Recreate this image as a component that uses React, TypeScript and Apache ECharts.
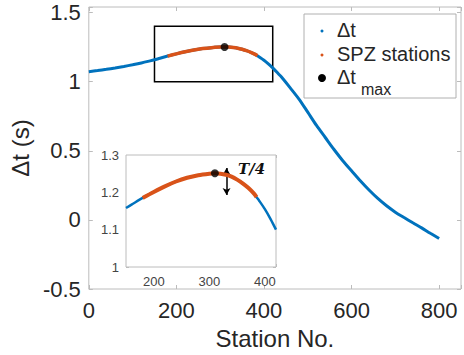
import React, { useEffect, useRef } from "react";
import * as echarts from "echarts";

const stations = [0, 20, 40, 60, 80, 100, 120, 140, 150, 160, 180, 200, 220, 240, 260, 280, 300, 310, 320, 330, 340, 350, 360, 370, 380, 385, 390, 400, 410, 420, 435, 440, 460, 480, 500, 520, 540, 560, 580, 600, 620, 640, 660, 680, 700, 720, 740, 760, 780, 800];
const dt = [1.072, 1.080, 1.089, 1.099, 1.110, 1.122, 1.135, 1.150, 1.158, 1.167, 1.185, 1.201, 1.216, 1.229, 1.239, 1.246, 1.250, 1.251, 1.250, 1.247, 1.242, 1.234, 1.224, 1.212, 1.197, 1.187, 1.177, 1.155, 1.129, 1.100, 1.050, 1.033, 0.955, 0.874, 0.779, 0.683, 0.596, 0.509, 0.428, 0.355, 0.283, 0.216, 0.155, 0.102, 0.056, 0.017, -0.021, -0.058, -0.097, -0.135];
const spzRange = [180, 385];
const dtMax = [310, 1.251];
const zoomBox = [[150, 1.0], [420, 1.4]];
const insetX = [150, 420];
const insetY = [1.0, 1.3];
const arrowX = 331;
const arrowY = [1.193, 1.265];
const xTicks = [0, 200, 400, 600, 800];
const yTicks = [-0.5, 0, 0.5, 1, 1.5];
const legendLabels = ["Δt", "SPZ stations", "Δt", "max"];

const BLUE = "#0072BD";
const ORANGE = "#D95319";
const AXIS = "#bcbcbc";
const TXT = "#262626";
const FONT = "'Liberation Sans', Arial, Helvetica, sans-serif";

export default function App() {
  const ref = useRef<HTMLDivElement>(null);
  useEffect(() => {
    if (!ref.current) return;
    const chart = echarts.init(ref.current, null, { renderer: "svg" });
    const all = stations.map((s, i) => [s, dt[i]]);
    const spz = all.filter((p) => p[0] >= spzRange[0] && p[0] <= spzRange[1]);
    const insetAll = all.filter((p) => p[0] >= insetX[0] && p[0] <= insetX[1]);
    const onTick = (list: number[]) => (v: number) =>
      list.some((t) => Math.abs(t - v) < 1e-6) ? String(v) : "";

    const tickStyle = { show: true, inside: true, length: 4, lineStyle: { color: AXIS } };
    const insetTick = { show: true, inside: true, length: 3, lineStyle: { color: AXIS } };
    const noLine = { show: false, onZero: false };

    chart.setOption({
      animation: false,
      grid: [
        { left: 88, top: 7, width: 375, height: 283.5, show: true, borderColor: AXIS, borderWidth: 1, backgroundColor: "#fff" },
        { left: 126, top: 155, width: 150, height: 112, show: true, borderColor: AXIS, borderWidth: 1, backgroundColor: "#fff", z: 5 },
      ],
      xAxis: [
        {
          gridIndex: 0, type: "value", min: 0, max: 850, interval: 200,
          name: "Station No.", nameLocation: "middle", nameGap: 37,
          nameTextStyle: { fontSize: 24, color: TXT, fontFamily: FONT },
          axisLine: noLine, axisTick: tickStyle, splitLine: { show: false },
          axisLabel: { fontSize: 22, color: TXT, fontFamily: FONT, margin: 10, formatter: onTick(xTicks) },
        },
        {
          gridIndex: 0, type: "value", position: "top", min: 0, max: 850, interval: 200,
          axisLine: noLine, axisTick: tickStyle, splitLine: { show: false }, axisLabel: { show: false },
        },
        {
          gridIndex: 1, type: "value", min: insetX[0], max: insetX[1], splitNumber: 3,
          axisLine: noLine, axisTick: insetTick, splitLine: { show: false },
          axisLabel: { fontSize: 13, color: "#444", fontFamily: FONT, margin: 8, formatter: (v: number) => (v % 100 === 0 ? String(v) : "") },
        },
        {
          gridIndex: 1, type: "value", position: "top", min: insetX[0], max: insetX[1], splitNumber: 3,
          axisLine: noLine, axisTick: insetTick, splitLine: { show: false }, axisLabel: { show: false },
        },
      ],
      yAxis: [
        {
          gridIndex: 0, type: "value", min: -0.5, max: 1.54, interval: 0.5,
          name: "Δt (s)", nameLocation: "middle", nameGap: 46,
          nameTextStyle: { fontSize: 24, color: TXT, fontFamily: FONT },
          axisLine: noLine, axisTick: tickStyle, splitLine: { show: false },
          axisLabel: { fontSize: 22, color: TXT, fontFamily: FONT, margin: 8, formatter: onTick(yTicks) },
        },
        {
          gridIndex: 0, type: "value", position: "right", min: -0.5, max: 1.54, interval: 0.5,
          axisLine: noLine, axisTick: tickStyle, splitLine: { show: false }, axisLabel: { show: false },
        },
        {
          gridIndex: 1, type: "value", min: insetY[0], max: insetY[1], interval: 0.1,
          axisLine: noLine, axisTick: insetTick, splitLine: { show: false },
          axisLabel: { fontSize: 13, color: "#444", fontFamily: FONT, margin: 7 },
        },
        {
          gridIndex: 1, type: "value", position: "right", min: insetY[0], max: insetY[1], interval: 0.1,
          axisLine: noLine, axisTick: insetTick, splitLine: { show: false }, axisLabel: { show: false },
        },
      ],
      series: [
        {
          type: "line", xAxisIndex: 0, yAxisIndex: 0, data: all, showSymbol: false, smooth: 0.3,
          lineStyle: { color: BLUE, width: 3 }, z: 2,
          markArea: {
            silent: true,
            itemStyle: { color: "rgba(0,0,0,0)", borderColor: "#000", borderWidth: 1.5 },
            data: [[{ coord: zoomBox[0] }, { coord: zoomBox[1] }]],
          },
        },
        {
          type: "line", xAxisIndex: 0, yAxisIndex: 0, data: spz, showSymbol: false, smooth: 0.3,
          lineStyle: { color: ORANGE, width: 3.5 }, z: 3,
        },
        {
          type: "scatter", xAxisIndex: 0, yAxisIndex: 0, data: [dtMax], symbolSize: 8,
          itemStyle: { color: "#000" }, z: 4,
        },
        {
          type: "line", xAxisIndex: 2, yAxisIndex: 2, data: insetAll, showSymbol: false, smooth: 0.3,
          lineStyle: { color: BLUE, width: 2.5 }, z: 6,
        },
        {
          type: "line", xAxisIndex: 2, yAxisIndex: 2, data: spz, showSymbol: false, smooth: 0.3,
          lineStyle: { color: ORANGE, width: 4 }, z: 7,
          markLine: {
            silent: true, symbol: ["arrow", "arrow"], symbolSize: [6, 7],
            lineStyle: { color: "#000", width: 1.5, type: "solid" }, label: { show: false },
            data: [[{ coord: [arrowX, arrowY[0]] }, { coord: [arrowX, arrowY[1]] }]],
          },
        },
        {
          type: "scatter", xAxisIndex: 2, yAxisIndex: 2, data: [dtMax], symbolSize: 8,
          itemStyle: { color: "#000" }, z: 8,
        },
      ],
      graphic: [
        { type: "rect", z: 100, shape: { x: 304, y: 14, width: 152, height: 84 }, style: { fill: "#fff", stroke: "#b0b0b0", lineWidth: 1 } },
        { type: "circle", z: 101, shape: { cx: 322, cy: 31, r: 1.5 }, style: { fill: BLUE } },
        { type: "circle", z: 101, shape: { cx: 322, cy: 55, r: 1.5 }, style: { fill: ORANGE } },
        { type: "circle", z: 101, shape: { cx: 322, cy: 78, r: 4 }, style: { fill: "#000" } },
        { type: "text", z: 101, style: { text: legendLabels[0], x: 337, y: 30, fontSize: 20, fontFamily: FONT, fill: TXT, verticalAlign: "middle" } },
        { type: "text", z: 101, style: { text: legendLabels[1], x: 337, y: 54, fontSize: 20, fontFamily: FONT, fill: TXT, verticalAlign: "middle" } },
        { type: "text", z: 101, style: { text: legendLabels[2], x: 337, y: 77, fontSize: 20, fontFamily: FONT, fill: TXT, verticalAlign: "middle" } },
        { type: "text", z: 101, style: { text: legendLabels[3], x: 361, y: 89, fontSize: 16, fontFamily: FONT, fill: TXT, verticalAlign: "middle" } },
        { type: "text", z: 101, style: { text: "T/4", x: 238, y: 169, fontSize: 15, fontStyle: "italic", fontWeight: "bold", fontFamily: "'DejaVu Serif', 'Liberation Serif', serif", fill: "#111", verticalAlign: "middle" } },
      ],
    });
    return () => chart.dispose();
  }, []);
  return <div ref={ref} style={{ position: "fixed", left: 0, top: 0, width: 464, height: 355, background: "#fff" }} />;
}
